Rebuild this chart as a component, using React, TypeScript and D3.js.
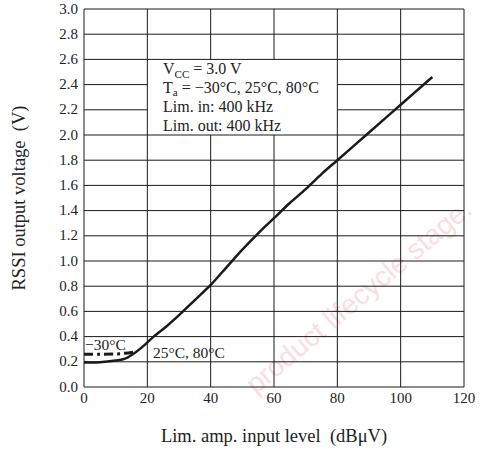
import React, { useEffect, useRef } from 'react';
import * as d3 from 'd3';

// RSSI output voltage vs limiter amp input level
const inputLevel = [0, 5, 10, 13, 16, 19, 22, 26, 30, 35, 40, 45, 50, 55, 60, 65, 70, 75, 80, 85, 90, 95, 100, 105, 110];
const rssi25_80 = [0.195, 0.196, 0.21, 0.225, 0.27, 0.33, 0.4, 0.48, 0.57, 0.69, 0.81, 0.95, 1.09, 1.22, 1.34, 1.46, 1.57, 1.69, 1.8, 1.91, 2.02, 2.13, 2.24, 2.35, 2.46];

const inputLevelCold = [0, 5, 10, 13, 16.5];
const rssiMinus30 = [0.26, 0.26, 0.262, 0.268, 0.28];

const xTicks = [0, 20, 40, 60, 80, 100, 120];
const yTicks = [0, 0.2, 0.4, 0.6, 0.8, 1.0, 1.2, 1.4, 1.6, 1.8, 2.0, 2.2, 2.4, 2.6, 2.8, 3.0];

const conditions = ['Lim. in: 400 kHz', 'Lim. out: 400 kHz'];

const serif = '"Liberation Serif", "Times New Roman", serif';

const App = () => {
  const ref = useRef<SVGSVGElement | null>(null);

  const W = 480;
  const H = 451;
  const plot = { left: 84, right: 464, top: 9, bottom: 387 };

  useEffect(() => {
    if (!ref.current) return;
    const svg = d3.select(ref.current);
    svg.selectAll('*').remove();

    const x = d3.scaleLinear().domain([0, 120]).range([plot.left, plot.right]);
    const y = d3.scaleLinear().domain([0, 3]).range([plot.bottom, plot.top]);

    // faint watermark underneath
    svg.append('text')
      .attr('transform', 'translate(474,212) rotate(-40)')
      .attr('text-anchor', 'end')
      .style('font-family', '"Liberation Sans", Arial, sans-serif')
      .style('font-size', '28px')
      .style('fill', '#f3a0a8')
      .style('opacity', 0.35)
      .text('product lifecycle stage.');

    // legend box area hides the inner gridlines
    const box = { x0: 20, x1: 80, y0: 2.0, y1: 2.6 };
    const grid = svg.append('g').attr('stroke', '#1a1a1a').attr('stroke-width', 1).attr('fill', 'none');

    yTicks.forEach(v => {
      const inside = v > box.y0 + 1e-6 && v < box.y1 - 1e-6;
      const segs = inside ? [[0, box.x0], [box.x1, 120]] : [[0, 120]];
      segs.forEach(([a, b]) => {
        grid.append('line').attr('x1', x(a)).attr('x2', x(b)).attr('y1', y(v)).attr('y2', y(v));
      });
    });
    xTicks.forEach(v => {
      const inside = v > box.x0 && v < box.x1;
      const segs = inside ? [[0, box.y0], [box.y1, 3]] : [[0, 3]];
      segs.forEach(([a, b]) => {
        grid.append('line').attr('x1', x(v)).attr('x2', x(v)).attr('y1', y(a)).attr('y2', y(b));
      });
    });

    // tick labels
    svg.append('g')
      .selectAll('text')
      .data(yTicks)
      .enter().append('text')
      .attr('x', plot.left - 6)
      .attr('y', d => y(d) + 4.5)
      .attr('text-anchor', 'end')
      .style('font-family', serif)
      .style('font-size', '15px')
      .style('fill', '#222')
      .text(d => d.toFixed(1));

    svg.append('g')
      .selectAll('text')
      .data(xTicks)
      .enter().append('text')
      .attr('x', d => x(d))
      .attr('y', plot.bottom + 15.5)
      .attr('text-anchor', 'middle')
      .style('font-family', serif)
      .style('font-size', '15px')
      .style('fill', '#222')
      .text(d => String(d));

    // axis titles
    svg.append('text')
      .attr('x', (plot.left + plot.right) / 2)
      .attr('y', 442)
      .attr('text-anchor', 'middle')
      .style('font-family', serif)
      .style('font-size', '18.5px')
      .style('white-space', 'pre')
      .style('fill', '#222')
      .text('Lim. amp. input level  (dBμV)');

    svg.append('text')
      .attr('transform', `translate(25,${(plot.top + plot.bottom) / 2}) rotate(-90)`)
      .attr('text-anchor', 'middle')
      .style('font-family', serif)
      .style('font-size', '18.5px')
      .style('white-space', 'pre')
      .style('fill', '#222')
      .text('RSSI output voltage  (V)');

    // curves
    const line = d3.line<[number, number]>()
      .x(d => x(d[0]))
      .y(d => y(d[1]))
      .curve(d3.curveCatmullRom.alpha(0.5));

    svg.append('path')
      .datum(inputLevel.map((v, i) => [v, rssi25_80[i]] as [number, number]))
      .attr('d', line)
      .attr('fill', 'none')
      .attr('stroke', '#1a1a1a')
      .attr('stroke-width', 2.5);

    svg.append('path')
      .datum(inputLevelCold.map((v, i) => [v, rssiMinus30[i]] as [number, number]))
      .attr('d', line)
      .attr('fill', 'none')
      .attr('stroke', '#1a1a1a')
      .attr('stroke-width', 3)
      .attr('stroke-dasharray', '9,4,3,4');

    // curve labels
    svg.append('text')
      .attr('x', plot.left + 1)
      .attr('y', 350)
      .style('font-family', serif)
      .style('font-size', '15.5px')
      .style('fill', '#222')
      .text('−30°C');

    svg.append('text')
      .attr('x', 153)
      .attr('y', 357.5)
      .style('font-family', serif)
      .style('font-size', '15.5px')
      .style('fill', '#222')
      .text('25°C, 80°C');

    // conditions block
    const cond = svg.append('g')
      .style('font-family', serif)
      .style('font-size', '16px')
      .style('fill', '#222');

    const t1 = cond.append('text').attr('x', 163).attr('y', 73.5);
    t1.append('tspan').text('V');
    t1.append('tspan').attr('dy', 4).style('font-size', '11px').text('CC');
    t1.append('tspan').attr('dy', -4).text(' = 3.0 V');

    const t2 = cond.append('text').attr('x', 163).attr('y', 92.5);
    t2.append('tspan').text('T');
    t2.append('tspan').attr('dy', 3).style('font-size', '11px').text('a');
    t2.append('tspan').attr('dy', -3).text(' = −30°C, 25°C, 80°C');

    conditions.forEach((c, i) => {
      cond.append('text').attr('x', 163).attr('y', 111.5 + i * 19).text(c);
    });
  }, []);

  return (
    <svg
      ref={ref}
      width={W}
      height={H}
      style={{ position: 'absolute', left: 0, top: 0, background: '#fff' }}
    />
  );
};

export default App;
